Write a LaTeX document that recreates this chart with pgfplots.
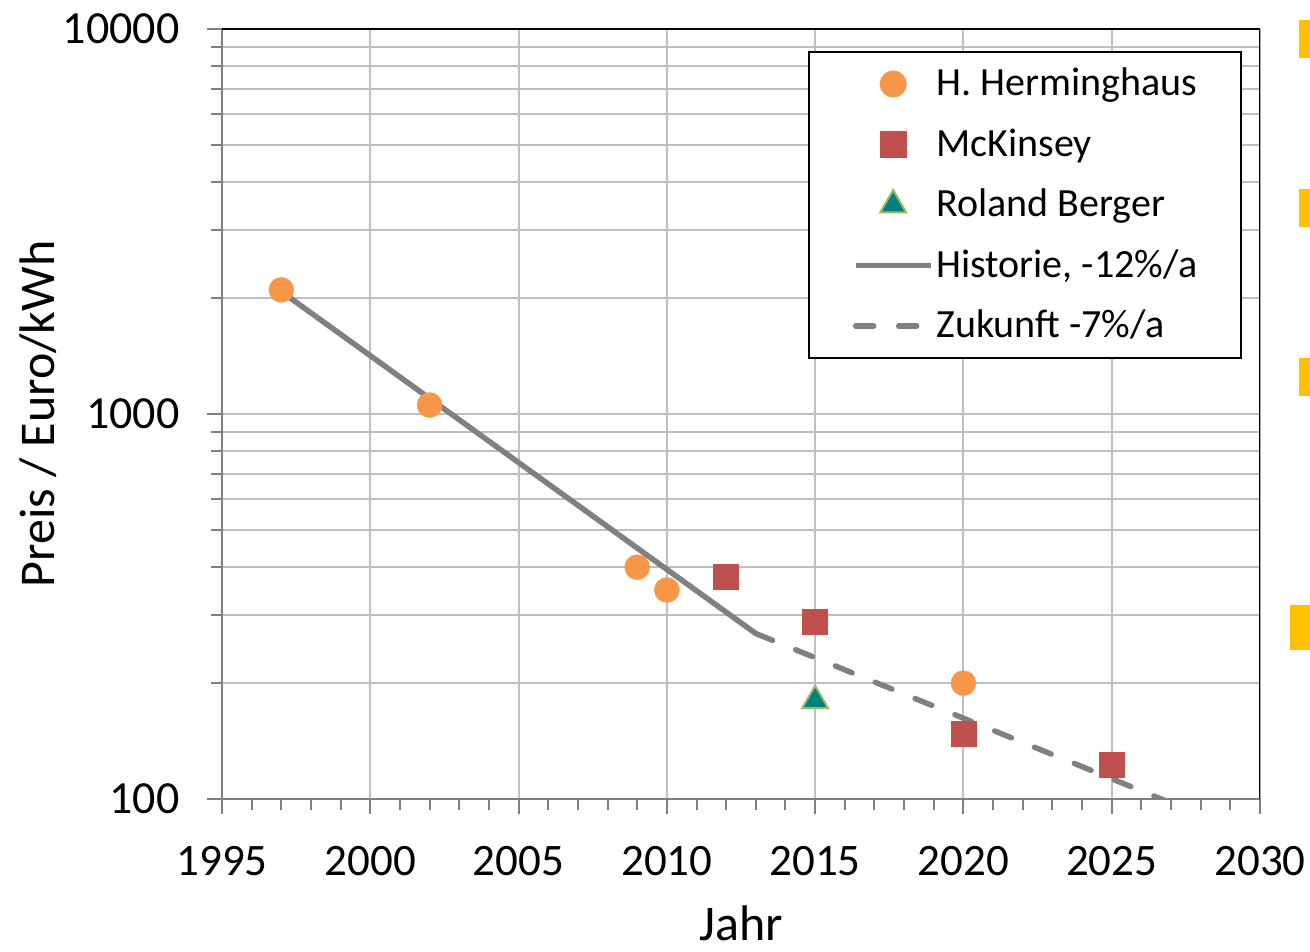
\documentclass[border=0pt]{standalone}
\usepackage{pgfplots}
\pgfplotsset{compat=1.18}
\usepackage{fontspec}
\setmainfont{Carlito}
\definecolor{herm}{HTML}{F79646}
\definecolor{mck}{HTML}{C0504D}
\definecolor{rbfill}{HTML}{00807F}
\definecolor{rbedge}{HTML}{9BBB59}
\definecolor{lgray}{HTML}{808080}
\definecolor{gridc}{HTML}{BFBFBF}
\definecolor{barY}{HTML}{FFC000}
\begin{document}
\begin{tikzpicture}[x=1pt,y=1pt]
\useasboundingbox (0,0) rectangle (1310,952);
\fill[barY] (1299,894) rectangle (1310,932);
\fill[barY] (1299,725) rectangle (1310,763);
\fill[barY] (1299,556) rectangle (1310,594);
\fill[barY] (1290,302) rectangle (1310,347);
\begin{axis}[
  at={(222pt,153pt)}, anchor=south west,
  scale only axis, width=1038pt, height=770pt,
  xmin=1995, xmax=2030, ymin=100, ymax=10000, ymode=log,
  xtick={1995,2000,...,2030}, minor x tick num=4,
  ytick={100,1000,10000}, yticklabels={100,1000,10000},
  minor ytick={200,300,400,500,600,700,800,900,2000,3000,4000,5000,6000,7000,8000,9000},
  axis x line*=bottom, axis y line*=left,
  axis line style={lgray, line width=2.5pt},
  tick align=outside, major tick length=15pt, minor tick length=11pt,
  every tick/.style={lgray, line width=2pt},
  xmajorgrids, ymajorgrids, yminorgrids,
  major grid style={gridc, line width=2pt},
  minor grid style={gridc, line width=2pt},
  /pgf/number format/.cd, 1000 sep={}, assume math mode=true, /pgfplots/.cd,
  xticklabel style={font=\fontsize{45}{50}\selectfont, yshift=-29pt},
  yticklabel style={font=\fontsize{46}{50}\selectfont, xshift=-24pt},
  label style={font=\fontsize{50}{56}\selectfont},
  xlabel={Jahr},
  xlabel style={at={(axis description cs:0.5,-0.1844)}, anchor=base},
  ylabel={Preis / Euro/kWh},
  ylabel style={at={(axis description cs:-0.1773,0.5)}, anchor=center},
  legend image code/.code={\draw[mark repeat=2,mark phase=2,#1] plot coordinates {(0pt,0pt) (37.5pt,0pt) (75pt,0pt)};},
  legend style={at={(0.5645,0.9714)}, anchor=north west, draw=black, line width=2pt,
    font=\fontsize{40}{48}\selectfont, inner xsep=44pt, inner ysep=14pt,
    nodes={inner sep=0pt, text height=30pt, text depth=6pt}, row sep=24.5pt,
    /tikz/every odd column/.append style={column sep=3pt}},
  legend cell align=left,
]
% lines (under markers)
\addplot[forget plot, lgray, line width=5.5pt] coordinates {(1997,2080) (2013,269)};
\addplot[forget plot, lgray, line width=5.5pt, dash pattern=on 18pt off 25pt, line cap=round] coordinates {(2013,269) (2030,78.6)};
% markers
\addplot[only marks, mark=*, mark size=12.5pt, mark options={draw=herm, fill=herm}] coordinates {(1997,2100) (2002,1055) (2009,400) (2010,349) (2020,200)};
\addlegendentry{H. Herminghaus}
\addplot[only marks, mark=square*, mark size=12.5pt, mark options={draw=mck, fill=mck}] coordinates {(2012,377) (2015,288) (2020,148) (2025,122.5)};
\addlegendentry{McKinsey}
\addplot[only marks, mark=triangle*, mark size=15pt, mark options={draw=rbedge, fill=rbfill, line width=2pt}] coordinates {(2015,180)};
\addlegendentry{Roland Berger}
\addlegendimage{lgray, line width=5.5pt}
\addlegendentry{Historie, -12\%/a}
\addlegendimage{lgray, line width=5.5pt, dash pattern=on 18pt off 25pt, line cap=round}
\addlegendentry{Zukunft -7\%/a}
\draw[black, line width=3pt] (rel axis cs:0,1) -- (rel axis cs:1,1) -- (rel axis cs:1,0);
\end{axis}
\end{tikzpicture}
\end{document}
